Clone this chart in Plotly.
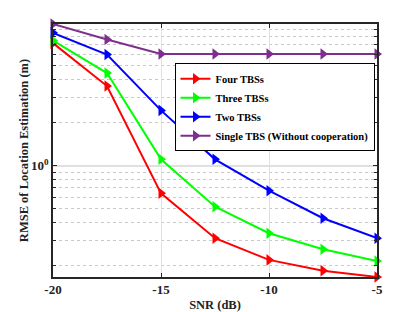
import numpy as np
import plotly.graph_objects as go

snr = [-20, -17.5, -15, -12.5, -10, -7.5, -5]
four_tbs = [7.2, 3.61, 0.642, 0.312, 0.220, 0.185, 0.167]
three_tbs = [7.5, 4.45, 1.11, 0.518, 0.338, 0.261, 0.216]
two_tbs = [8.5, 6.0, 2.44, 1.11, 0.67, 0.43, 0.312]
single_tbs = [9.8, 7.64, 6.05, 6.05, 6.05, 6.05, 6.05]

names = ["Four TBSs", "Three TBSs", "Two TBSs", "Single TBS (Without cooperation)"]
colors = ["#FF0000", "#00FF00", "#0000FF", "#7E2F8E"]
series = [four_tbs, three_tbs, two_tbs, single_tbs]

font_family = "Liberation Serif, Times New Roman, serif"
txt = dict(family=font_family, size=12.5, color="#222", weight="bold")
tick_txt = dict(family=font_family, size=13, color="#222", weight="bold")

fig = go.Figure()
for name, col, ys in zip(names, colors, series):
    fig.add_trace(go.Scatter(
        x=snr, y=ys, name=name, mode="lines+markers",
        line=dict(color=col, width=2),
        marker=dict(symbol="triangle-right", size=10, color=col),
        cliponaxis=False,
    ))

all_vals = four_tbs + three_tbs + two_tbs + single_tbs
ymin, ymax = min(all_vals), max(all_vals)
minor_vals = [0.2, 0.3, 0.4, 0.5, 0.6, 0.7, 0.8, 0.9, 2, 3, 4, 5, 6, 7, 8, 9]

fig.update_layout(
    width=415, height=312,
    margin=dict(l=53, r=38, t=24, b=35),
    paper_bgcolor="white", plot_bgcolor="white",
    font=txt,
    showlegend=True,
    legend=dict(
        x=0.375, y=0.845, xanchor="left", yanchor="top",
        bgcolor="white", bordercolor="black", borderwidth=1,
        font=dict(family=font_family, size=10.5, color="black", weight="bold"),
        tracegroupgap=0, itemwidth=30,
    ),
    xaxis=dict(
        range=[-20, -5], automargin=False,
        tickvals=[-20, -15, -10, -5],
        ticktext=["-20", "-15", "-10", "-5"],
        showgrid=True, gridcolor="#e0e0e0", gridwidth=1,
        showline=True, linecolor="#262626", linewidth=1.5, mirror="ticks",
        ticks="inside", ticklen=4, tickcolor="#262626",
        zeroline=False,
        tickfont=tick_txt,
        title=dict(text="SNR (dB)", standoff=5, font=txt),
    ),
    yaxis=dict(
        type="log", automargin=False,
        range=[np.log10(ymin), np.log10(ymax)],
        tickvals=[1], ticktext=["10<sup>0</sup>"],
        showgrid=True, gridcolor="#e0e0e0", gridwidth=1.5,
        showline=True, linecolor="#262626", linewidth=1.5, mirror="ticks",
        ticks="inside", ticklen=4, tickcolor="#262626",
        zeroline=False,
        tickfont=tick_txt,
        minor=dict(tickvals=minor_vals, showgrid=True, gridcolor="#c8c8c8",
                   griddash="dot", gridwidth=1, ticks="inside", ticklen=3,
                   tickcolor="#262626"),
        title=dict(text="RMSE of Location Estimation (m)", standoff=0, font=txt),
    ),
)

fig.write_html("out.html", config={"displayModeBar": False},
               post_script="document.body.style.margin='0';")
